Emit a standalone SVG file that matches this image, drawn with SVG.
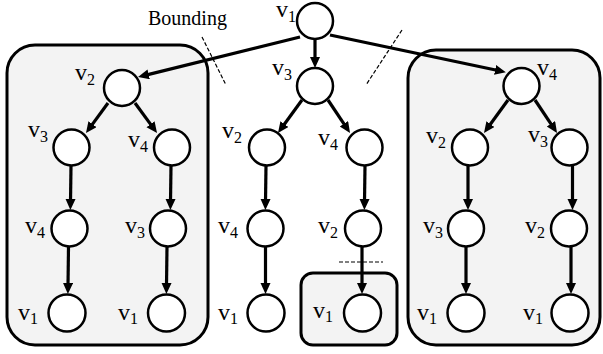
<svg xmlns="http://www.w3.org/2000/svg" width="603" height="354" viewBox="0 0 603 354">
<defs>
<marker id="ah" markerUnits="userSpaceOnUse" markerWidth="12" markerHeight="11" refX="3" refY="5" orient="auto">
<path d="M0,0 L11,5 L0,10 z" fill="#000"/>
</marker>
<style>
.box{fill:#f3f3f3;stroke:#000;stroke-width:3}
.n{fill:#fff;stroke:#000;stroke-width:2.5}
.e{stroke:#000;stroke-width:3.2;fill:none;marker-end:url(#ah)}
.d{stroke:#000;stroke-width:1.2;stroke-dasharray:4 2;fill:none}
text{font-family:"Liberation Serif","Times New Roman",serif;font-size:24px;fill:#000}
.s{font-size:16px}
</style>
</defs>
<rect x="7" y="45" width="201" height="300" rx="28" class="box"/>
<rect x="408" y="50" width="192" height="295" rx="28" class="box"/>
<rect x="301" y="273" width="96" height="72" rx="12" class="box"/>
<text x="148" y="25" style="font-size:20px">Bounding</text>
<g id="connectors">
<line class="e" x1="300" y1="37" x2="145.8" y2="75.1"/>
<line class="e" x1="330" y1="35" x2="498" y2="70.5"/>
<line class="e" x1="315" y1="39" x2="315" y2="60"/>
<line class="e" x1="108" y1="103" x2="90.7" y2="126.6"/>
<line class="e" x1="135" y1="103" x2="152.3" y2="126.6"/>
<line class="e" x1="302" y1="100" x2="282.7" y2="126.5"/>
<line class="e" x1="328" y1="100" x2="345.6" y2="126.3"/>
<line class="e" x1="508" y1="100" x2="488.7" y2="126.5"/>
<line class="e" x1="535" y1="100" x2="552.6" y2="126.3"/>
<line class="e" x1="71" y1="166" x2="70.5" y2="202"/>
<line class="e" x1="171" y1="166" x2="170.5" y2="202"/>
<line class="e" x1="266" y1="166" x2="265.5" y2="202"/>
<line class="e" x1="365" y1="166" x2="364.5" y2="202"/>
<line class="e" x1="468" y1="166" x2="468" y2="202"/>
<line class="e" x1="572.5" y1="166" x2="572.5" y2="202"/>
<line class="e" x1="68.5" y1="247" x2="68" y2="286"/>
<line class="e" x1="167" y1="247" x2="166.5" y2="286"/>
<line class="e" x1="265.5" y1="247" x2="265.5" y2="286"/>
<line class="e" x1="362" y1="247" x2="362" y2="286"/>
<line class="e" x1="466" y1="247" x2="466" y2="286"/>
<line class="e" x1="571" y1="247" x2="571" y2="286"/>
<line class="d" x1="202" y1="37" x2="226" y2="85"/>
<line class="d" x1="402" y1="30" x2="366" y2="85"/>
<line class="d" x1="339" y1="262" x2="383" y2="262"/>
</g>
<g id="n_root"><circle class="n" cx="315" cy="21" r="18"/><text x="276" y="17">v<tspan class="s" dy="5">1</tspan></text></g>
<g id="n_v2"><circle class="n" cx="122" cy="88" r="18"/><text x="75" y="80">v<tspan class="s" dy="5">2</tspan></text></g>
<g id="n_v3"><circle class="n" cx="315" cy="86" r="18"/><text x="272" y="75">v<tspan class="s" dy="5">3</tspan></text></g>
<g id="n_v4"><circle class="n" cx="521.5" cy="86" r="18"/><text x="537" y="75">v<tspan class="s" dy="5">4</tspan></text></g>
<g id="n_a3"><circle class="n" cx="71.5" cy="147.5" r="18"/><text x="28" y="137">v<tspan class="s" dy="5">3</tspan></text></g>
<g id="n_a4"><circle class="n" cx="172" cy="147.5" r="18"/><text x="128" y="147">v<tspan class="s" dy="5">4</tspan></text></g>
<g id="n_b2"><circle class="n" cx="267" cy="147.5" r="18"/><text x="222" y="138">v<tspan class="s" dy="5">2</tspan></text></g>
<g id="n_b4"><circle class="n" cx="364.5" cy="147.5" r="18"/><text x="318" y="145">v<tspan class="s" dy="5">4</tspan></text></g>
<g id="n_c2"><circle class="n" cx="470" cy="147.5" r="18"/><text x="426" y="143">v<tspan class="s" dy="5">2</tspan></text></g>
<g id="n_c3"><circle class="n" cx="569.5" cy="147.5" r="18"/><text x="528" y="142">v<tspan class="s" dy="5">3</tspan></text></g>
<g id="n_a34"><circle class="n" cx="69.5" cy="228.5" r="18"/><text x="25" y="233">v<tspan class="s" dy="5">4</tspan></text></g>
<g id="n_a43"><circle class="n" cx="168" cy="228.5" r="18"/><text x="125" y="233">v<tspan class="s" dy="5">3</tspan></text></g>
<g id="n_b24"><circle class="n" cx="265.5" cy="228.5" r="18"/><text x="218" y="233">v<tspan class="s" dy="5">4</tspan></text></g>
<g id="n_b42"><circle class="n" cx="363" cy="228.5" r="18"/><text x="318" y="233">v<tspan class="s" dy="5">2</tspan></text></g>
<g id="n_c23"><circle class="n" cx="466" cy="228.5" r="18"/><text x="423" y="233">v<tspan class="s" dy="5">3</tspan></text></g>
<g id="n_c32"><circle class="n" cx="569" cy="228.5" r="18"/><text x="525" y="233">v<tspan class="s" dy="5">2</tspan></text></g>
<g id="n_l1"><circle class="n" cx="67" cy="313" r="18.5"/><text x="18" y="320">v<tspan class="s" dy="4">1</tspan></text></g>
<g id="n_l2"><circle class="n" cx="166.5" cy="313" r="18.5"/><text x="118" y="320">v<tspan class="s" dy="4">1</tspan></text></g>
<g id="n_l3"><circle class="n" cx="266" cy="313" r="18.5"/><text x="218" y="320">v<tspan class="s" dy="4">1</tspan></text></g>
<g id="n_l4"><circle class="n" cx="362.5" cy="313" r="18.5"/><text x="313" y="318">v<tspan class="s" dy="4">1</tspan></text></g>
<g id="n_l5"><circle class="n" cx="466" cy="313" r="18.5"/><text x="417" y="320">v<tspan class="s" dy="4">1</tspan></text></g>
<g id="n_l6"><circle class="n" cx="570" cy="313" r="18.5"/><text x="523" y="320">v<tspan class="s" dy="4">1</tspan></text></g>
</svg>
